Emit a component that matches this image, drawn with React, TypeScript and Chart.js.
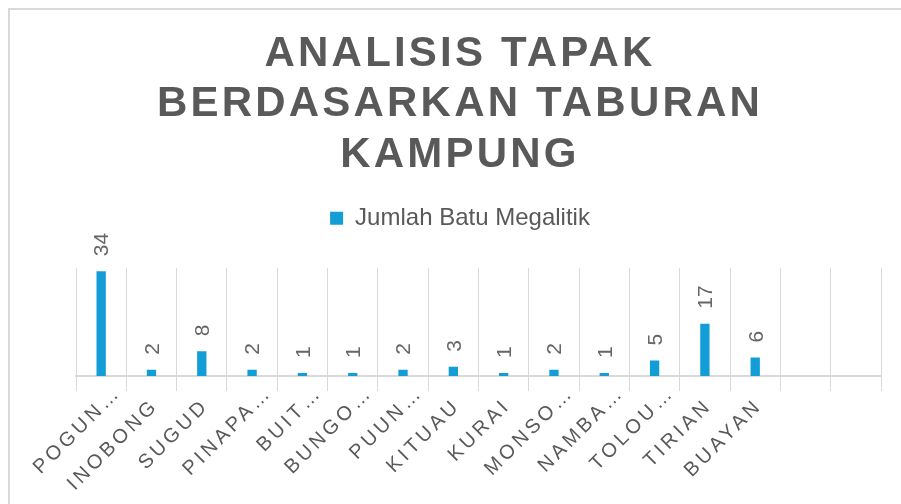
import React, { useEffect, useRef } from "react";
import { Chart, registerables } from "chart.js";

Chart.register(...registerables);

const titleLines = ["ANALISIS TAPAK", "BERDASARKAN TABURAN", "KAMPUNG"];
const seriesName = "Jumlah Batu Megalitik";
const categories = [
  "POGUN…",
  "INOBONG",
  "SUGUD",
  "PINAPA…",
  "BUIT…",
  "BUNGO…",
  "PUUN…",
  "KITUAU",
  "KURAI",
  "MONSO…",
  "NAMBA…",
  "TOLOU…",
  "TIRIAN",
  "BUAYAN",
  "",
  "",
];
const values: (number | null)[] = [34, 2, 8, 2, 1, 1, 2, 3, 1, 2, 1, 5, 17, 6, null, null];

const FONT = "'Liberation Sans', Arial, Helvetica, sans-serif";
const TEXT = "#595959";
const GRID = "#d9d9d9";
const BAR = "#129dd6";

function withSpacing(ctx: any, spacing: string, fn: () => void) {
  const prev = ctx.letterSpacing;
  ctx.letterSpacing = spacing;
  fn();
  ctx.letterSpacing = prev ?? "0px";
}

const spacingPlugin = {
  id: "spacingPlugin",
  afterLayout(chart: any) {
    const tb = chart.titleBlock;
    if (tb && !tb.__wrapped) {
      const orig = tb.draw.bind(tb);
      tb.draw = (...a: any[]) => withSpacing(chart.ctx, "3.2px", () => orig(...a));
      tb.__wrapped = true;
    }
    const sx = chart.scales.x;
    if (sx && !sx.__wrapped) {
      const origL = sx.drawLabels.bind(sx);
      sx.drawLabels = (...a: any[]) => withSpacing(chart.ctx, "3.6px", () => origL(...a));
      // Excel lays truncated (ellipsis) labels out a little further up/right
      const origG = sx.getLabelItems.bind(sx);
      sx.getLabelItems = (area: any) =>
        origG(area).map((item: any) => {
          if (typeof item.label === "string" && item.label.endsWith("…")) {
            const [tx, ty] = item.options.translation;
            return { ...item, options: { ...item.options, translation: [tx + 13, ty - 13] } };
          }
          return item;
        });
      sx.__wrapped = true;
    }
  },
};

const dataLabelPlugin = {
  id: "dataLabelPlugin",
  afterDatasetsDraw(chart: any) {
    const ctx = chart.ctx;
    const meta = chart.getDatasetMeta(0);
    ctx.save();
    ctx.font = `21px ${FONT}`;
    ctx.fillStyle = "#666666";
    ctx.textAlign = "left";
    ctx.textBaseline = "middle";
    meta.data.forEach((el: any, i: number) => {
      const v = values[i];
      if (v === null || v === undefined) return;
      ctx.save();
      ctx.translate(el.x + 1.5, el.y - 15);
      ctx.rotate(-Math.PI / 2);
      ctx.fillText(String(v), 0, 0);
      ctx.restore();
    });
    ctx.restore();
  },
};

export default function App() {
  const ref = useRef<HTMLCanvasElement | null>(null);

  useEffect(() => {
    if (!ref.current) return;
    Chart.defaults.font.family = FONT;
    const chart = new Chart(ref.current, {
      type: "bar",
      data: {
        labels: categories,
        datasets: [
          {
            label: seriesName,
            data: values,
            backgroundColor: BAR,
            borderWidth: 0,
            categoryPercentage: 1,
            barPercentage: 0.185,
          },
        ],
      },
      options: {
        responsive: false,
        animation: false,
        layout: { padding: { left: 29, right: 29, top: 0, bottom: 0 } },
        plugins: {
          title: {
            display: true,
            text: titleLines,
            color: TEXT,
            font: { size: 42, weight: "bold", family: FONT, lineHeight: 1.2 },
            padding: { top: 19, bottom: 16 },
          },
          legend: {
            display: true,
            position: "top",
            labels: {
              boxWidth: 13,
              boxHeight: 13,
              color: TEXT,
              padding: 10,
              font: { size: 24, family: FONT },
            },
          },
          tooltip: { enabled: false },
        },
        scales: {
          x: {
            position: "bottom",
            grid: {
              display: true,
              offset: true,
              color: GRID,
              lineWidth: 1,
              drawOnChartArea: true,
              drawTicks: true,
              tickLength: 15,
            },
            border: { display: true, color: GRID, width: 2 },
            ticks: {
              autoSkip: false,
              minRotation: 45,
              maxRotation: 45,
              color: TEXT,
              padding: 3,
              labelOffset: 4,
              font: { size: 20, family: FONT },
            },
            afterFit: (s: any) => {
              s.height = 128;
            },
          },
          xTop: {
            type: "category",
            position: "top",
            display: true,
            grid: { display: false, drawTicks: false },
            border: { display: false },
            ticks: { display: false },
            afterFit: (s: any) => {
              s.height = 28;
            },
          },
          y: {
            display: true,
            position: "left",
            min: 0,
            max: 35,
            grid: { display: false, drawTicks: false },
            border: { display: false },
            ticks: { display: false },
            afterFit: (s: any) => {
              s.width = 37;
            },
          },
        },
      },
      plugins: [spacingPlugin, dataLabelPlugin],
    });
    chart.draw();
    return () => chart.destroy();
  }, []);

  return (
    <div
      style={{
        position: "fixed",
        left: 0,
        top: 0,
        width: 901,
        height: 504,
        overflow: "hidden",
        background: "#ffffff",
      }}
    >
      <div
        style={{
          position: "absolute",
          left: 8,
          top: 8,
          width: 900,
          height: 494,
          borderLeft: `2px solid ${GRID}`,
          borderTop: `2px solid ${GRID}`,
        }}
      >
        <canvas
          ref={ref}
          width={900}
          height={494}
          style={{ display: "block", width: 900, height: 494 }}
        />
      </div>
    </div>
  );
}
